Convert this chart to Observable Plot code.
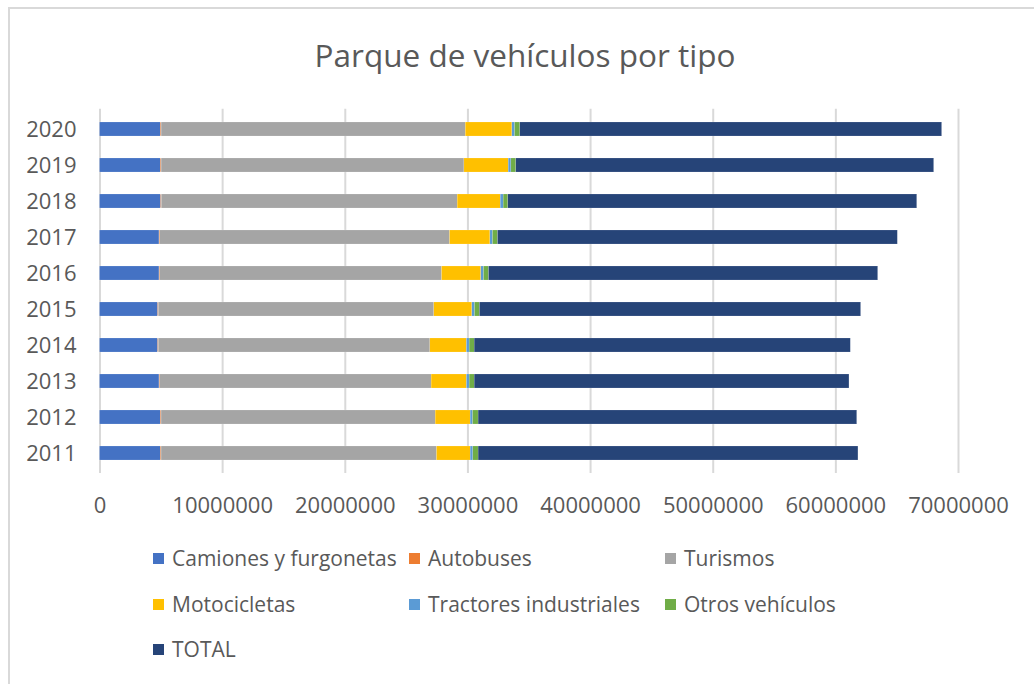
<!DOCTYPE html>
<html>
<head>
<meta charset="utf-8">
<script src="https://cdn.jsdelivr.net/npm/d3@7"></script>
<script src="https://cdn.jsdelivr.net/npm/@observablehq/plot@0.6"></script>
<style>
  html, body { margin: 0; padding: 0; background: #fff; }
  #wrap { position: relative; width: 1034px; height: 684px; overflow: hidden; font-family: "Open Sans", sans-serif; color: #595959; }
  #frame { position: absolute; left: 8px; top: 7px; width: 1040px; height: 700px; border-top: 2px solid #d9d9d9; border-left: 2px solid #d9d9d9; box-sizing: border-box; }
  #title { position: absolute; left: 0; width: 1050px; top: 33px; text-align: center; font-size: 31.5px; line-height: 44px; color: #595959; }
  #chart { position: absolute; left: 0; top: 0; }
  #legend { position: absolute; left: 153px; top: 536px; display: grid; grid-template-columns: 256px 256px 256px; grid-auto-rows: 45.5px; }
  .item { display: flex; align-items: center; font-size: 21px; line-height: 45.5px; color: #595959; white-space: nowrap; }
  .sw { width: 11px; height: 11px; margin-right: 8px; flex: none; }
</style>
</head>
<body>
<div id="wrap">
  <div id="frame"></div>
  <div id="chart"></div>
  <div id="title">Parque de vehículos por tipo</div>
  <div id="legend"></div>
</div>
<script>
const years = ["2011","2012","2013","2014","2015","2016","2017","2018","2019","2020"];
const seriesNames = ["Camiones y furgonetas","Autobuses","Turismos","Motocicletas","Tractores industriales","Otros vehículos","TOTAL"];
const seriesColors = ["#4472C4","#ED7D31","#A5A5A5","#FFC000","#5B9BD5","#70AD47","#264478"];
const camiones   = [4960000, 4960000, 4850000, 4740000, 4740000, 4850000, 4850000, 4980000, 4960000, 4960000];
const autobuses  = [61000, 60000, 59000, 58000, 59000, 60000, 62000, 63000, 64000, 64000];
const turismos   = [22460000, 22350000, 22130000, 22140000, 22460000, 22980000, 23630000, 24120000, 24690000, 24800000];
const motos      = [2740000, 2850000, 2880000, 2980000, 3100000, 3200000, 3290000, 3510000, 3610000, 3800000];
const tractores  = [220000, 200000, 220000, 220000, 220000, 220000, 210000, 240000, 220000, 220000];
const otros      = [430000, 450000, 410000, 410000, 400000, 410000, 410000, 380000, 400000, 430000];
const total      = [30970000, 30870000, 30560000, 30670000, 31080000, 31730000, 32600000, 33340000, 34070000, 34390000];
const xTicks = [0, 10000000, 20000000, 30000000, 40000000, 50000000, 60000000, 70000000];

const seriesValues = [camiones, autobuses, turismos, motos, tractores, otros, total];
const data = [];
seriesNames.forEach((s, i) => {
  years.forEach((y, j) => data.push({series: s, year: y, value: seriesValues[i][j]}));
});

const chart = Plot.plot({
  width: 1034,
  height: 540,
  marginTop: 108.8,
  marginBottom: 67.1,
  marginLeft: 99.5,
  marginRight: 76,
  style: {background: "none", fontFamily: "Open Sans, sans-serif", fontSize: "22px", color: "#595959"},
  x: {domain: [0, 70000000], ticks: xTicks, tickFormat: d => String(d), label: null},
  y: {domain: years.slice().reverse(), paddingInner: 0.615, paddingOuter: 0.3075, label: null},
  color: {domain: seriesNames, range: seriesColors},
  marks: [
    Plot.gridX(xTicks, {stroke: "#d9d9d9", strokeOpacity: 1, strokeWidth: 2}),
    Plot.barX(data, Plot.stackX({x: "value", y: "year", fill: "series", stroke: "#ffffff", strokeWidth: 0.3, strokeOpacity: 0.5})),
    Plot.axisX(xTicks, {tickSize: 0, tickPadding: 24, tickFormat: d => String(d), fill: "#595959", fontSize: 22, label: null}),
    Plot.axisY({tickSize: 0, tickPadding: 23.5, fill: "#595959", fontSize: 22, label: null})
  ]
});
document.getElementById("chart").appendChild(chart);

const legend = document.getElementById("legend");
seriesNames.forEach((s, i) => {
  const it = document.createElement("div");
  it.className = "item";
  const sw = document.createElement("span");
  sw.className = "sw";
  sw.style.background = seriesColors[i];
  const tx = document.createElement("span");
  tx.textContent = s;
  it.appendChild(sw);
  it.appendChild(tx);
  legend.appendChild(it);
});
</script>
</body>
</html>
